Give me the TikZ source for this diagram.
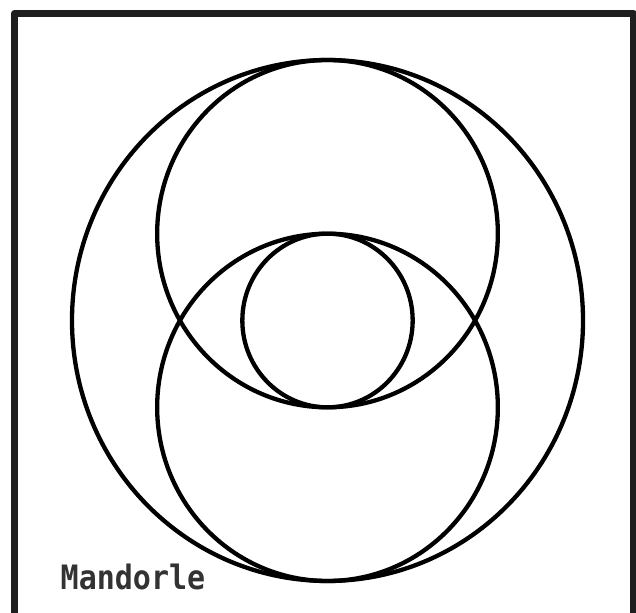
\documentclass[tikz,border=0pt]{standalone}
\usepackage{fontspec}
\newfontfamily\labelfont{DejaVu Sans Mono}
\begin{document}
\begin{tikzpicture}[x=1pt,y=-1pt,
  ring/.style={draw=black,line width=4.3pt},
  frameline/.style={draw=black!88,line width=7pt,line join=round}]
\useasboundingbox (0,0) rectangle (636,612);
\fill[white] (0,0) rectangle (636,612);
% frame (open at the bottom)
\draw[frameline] (14.5,630) -- (14.5,13.5) -- (633.5,13.5) -- (633.5,630);
% geometry: unit u (slightly stretched vertically)
\def\ux{85.17}
\def\uy{86.83}
\coordinate (c) at (327.5,320.5);
\coordinate (cu) at (327.5,{320.5-\uy});
\coordinate (cl) at (327.5,{320.5+\uy});
% outer circle
\draw[ring] (c) ellipse [x radius={3*\ux}, y radius={3*\uy}];
% upper and lower circles
\draw[ring] (cu) ellipse [x radius={2*\ux}, y radius={2*\uy}];
\draw[ring] (cl) ellipse [x radius={2*\ux}, y radius={2*\uy}];
% inner circle
\draw[ring] (c) ellipse [x radius={\ux}, y radius={\uy}];
% label
\node[anchor=base west,inner sep=0pt,text=black!80,yscale=1.12,transform shape,
  font=\labelfont\bfseries\fontsize{30}{30}\selectfont] (lbl) at (60.5,589) {Mandorle};
\end{tikzpicture}
\end{document}
